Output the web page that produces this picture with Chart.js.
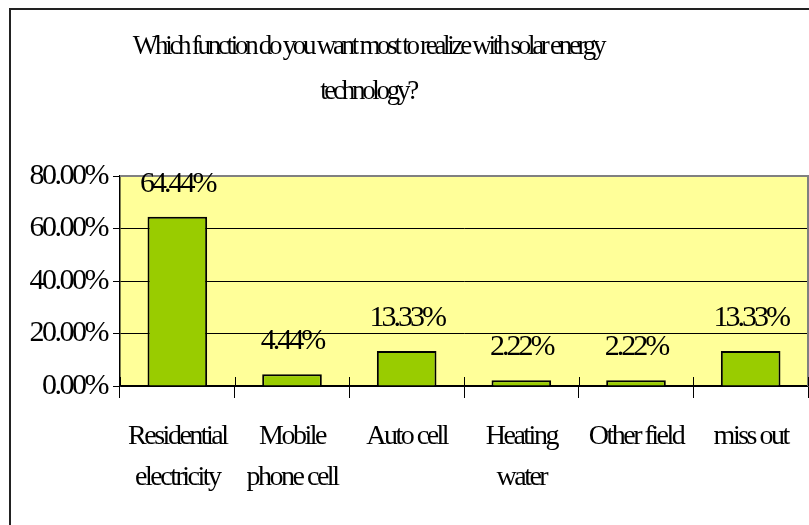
<!DOCTYPE html>
<html>
<head>
<meta charset="utf-8">
<script src="https://cdn.jsdelivr.net/npm/chart.js@4.4.1/dist/chart.umd.min.js"></script>
<style>
  html, body { margin: 0; padding: 0; background: #fff; }
</style>
</head>
<body>
<canvas id="solarChart" width="809" height="525"></canvas>
<script>
const titleLines = ['Which function do you want most to realize with solar energy', 'technology?'];
const categories = [['Residential', 'electricity'], ['Mobile', 'phone cell'], 'Auto cell', ['Heating', 'water'], 'Other field', 'miss out'];
const shares = [64.44, 4.44, 13.33, 2.22, 2.22, 13.33];
const yTicks = [0, 20, 40, 60, 80];

const serif = "'Liberation Serif', 'Times New Roman', serif";
const squeeze = '-2.5px';

// Excel-ish condensed text
const tightText = {
    id: 'tightText',
    beforeLayout(chart) { chart.ctx.letterSpacing = squeeze; },
    beforeDraw(chart) { chart.ctx.letterSpacing = squeeze; }
};

const frame = {
    id: 'frame',
    beforeDraw(chart) {
        const ctx = chart.ctx;
        const a = chart.chartArea;
        ctx.save();
        ctx.fillStyle = '#FFFF99';
        ctx.fillRect(a.left, a.top, a.right - a.left, a.bottom - a.top);
        // outer chart border
        ctx.strokeStyle = '#222';
        ctx.lineWidth = 2;
        ctx.beginPath();
        ctx.moveTo(10, chart.height + 5);
        ctx.lineTo(10, 9);
        ctx.lineTo(chart.width + 5, 9);
        ctx.stroke();
        // title
        ctx.fillStyle = '#000';
        ctx.font = '27px ' + serif;
        ctx.letterSpacing = '-3.3px';
        ctx.textAlign = 'center';
        ctx.textBaseline = 'middle';
        titleLines.forEach((t, i) => ctx.fillText(t, 368, 47 + i * 45));
        ctx.restore();
    },
    beforeDatasetsDraw(chart) {
        const ctx = chart.ctx;
        const a = chart.chartArea;
        ctx.save();
        ctx.strokeStyle = '#808080';
        ctx.lineWidth = 2;
        ctx.beginPath();
        ctx.moveTo(a.left, a.top);
        ctx.lineTo(a.right, a.top);
        ctx.lineTo(a.right, a.bottom);
        ctx.stroke();
        // category ticks also poke up into the plot area
        const xs = chart.scales.x;
        const step = (xs.right - xs.left) / categories.length;
        ctx.strokeStyle = '#000';
        ctx.lineWidth = 1;
        for (let i = 0; i <= categories.length; i++) {
            const px = Math.round(xs.getPixelForValue(0) - step / 2 + i * step) + 0.5;
            ctx.beginPath();
            ctx.moveTo(px, a.bottom - 9);
            ctx.lineTo(px, a.bottom);
            ctx.stroke();
        }
        ctx.restore();
    },
    afterDatasetsDraw(chart) {
        const ctx = chart.ctx;
        ctx.save();
        ctx.fillStyle = '#000';
        ctx.font = '30px ' + serif;
        ctx.letterSpacing = '-3px';
        ctx.textAlign = 'center';
        ctx.textBaseline = 'middle';
        chart.getDatasetMeta(0).data.forEach((bar, i) => {
            ctx.fillText(shares[i].toFixed(2) + '%', bar.x, bar.y - 33);
        });
        ctx.restore();
    }
};

new Chart(document.getElementById('solarChart'), {
    type: 'bar',
    data: {
        labels: categories,
        datasets: [{
            data: shares,
            backgroundColor: '#99CC00',
            borderColor: '#000',
            borderWidth: 2,
            barPercentage: 0.52,
            categoryPercentage: 1
        }]
    },
    options: {
        responsive: false,
        animation: false,
        layout: { padding: { top: 176, right: 1, left: 0, bottom: 0 } },
        plugins: {
            legend: { display: false },
            tooltip: { enabled: false },
            title: { display: false }
        },
        scales: {
            x: {
                offset: true,
                grid: { offset: true, drawOnChartArea: false, color: '#000', tickLength: 12, lineWidth: 1 },
                border: { color: '#000', width: 1.5 },
                ticks: { color: '#000', font: { family: serif, size: 28, lineHeight: 1.46 }, padding: 18, maxRotation: 0, autoSkip: false },
                afterFit: s => { s.height = 139; }
            },
            y: {
                min: yTicks[0],
                max: yTicks[yTicks.length - 1],
                afterBuildTicks: s => { s.ticks = yTicks.map(v => ({ value: v })); },
                ticks: { color: '#000', font: { family: serif, size: 30 }, padding: 6, callback: v => v.toFixed(2) + '%' },
                grid: {
                    color: c => (c.tick && c.tick.value === yTicks[yTicks.length - 1]) ? 'rgba(0,0,0,0)' : '#000',
                    tickColor: '#000',
                    tickLength: 7,
                    lineWidth: 1
                },
                border: { color: '#000', width: 1.5 },
                afterFit: s => { s.width = 120; }
            }
        }
    },
    plugins: [tightText, frame]
});
</script>
</body>
</html>
